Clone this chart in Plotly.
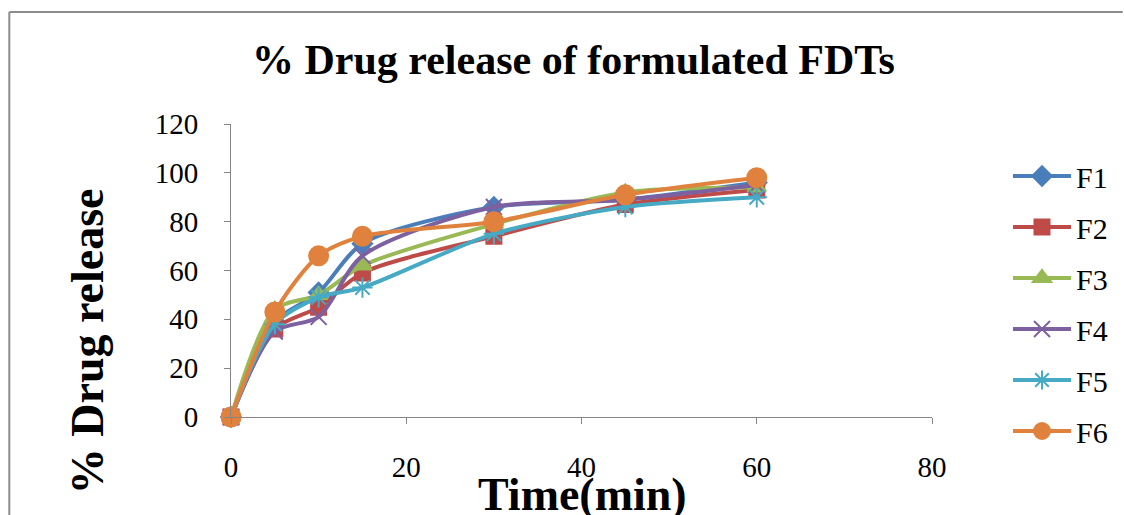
import plotly.graph_objects as go

time_min = [0, 5, 10, 15, 30, 45, 60]
F1 = [0, 39, 51, 71, 86, 89, 96]
F2 = [0, 36, 45, 59, 74, 87, 93]
F3 = [0, 44, 50, 62, 79, 92, 94]
F4 = [0, 35, 41, 66, 86, 89, 95]
F5 = [0, 38, 49, 53, 75, 86, 90]
F6 = [0, 43, 66, 74, 80, 91, 98]

series_names = ["F1", "F2", "F3", "F4", "F5", "F6"]
series_values = [F1, F2, F3, F4, F5, F6]
colors = ["#4A7EBB", "#BE4B48", "#98B954", "#7D60A0", "#46AAC5", "#E0823D"]
symbols = ["diamond", "square", "triangle-up", "x-thin-open", "asterisk-open", "circle"]
sizes = [15, 15, 16, 16, 17, 19]

FONT = "Liberation Serif, Times New Roman, serif"

fig = go.Figure()
for i, (name, vals) in enumerate(zip(series_names, series_values)):
    fig.add_trace(go.Scatter(
        x=time_min, y=vals, name=name, mode="lines+markers",
        legendgroup=name, cliponaxis=False,
        line=dict(color=colors[i], width=4, shape="spline", smoothing=0.8),
        marker=dict(symbol=symbols[i], size=sizes[i], color=colors[i],
                    line=dict(color=colors[i], width=2)),
    ))

L, R, T, B = 231, 191, 124, 98
W, H = 1124, 515
pw, ph = W - L - R, H - T - B

def px_x(p):
    return (p - L) / pw

def px_y(p):
    return (H - B - p) / ph

fig.update_layout(
    width=W, height=H,
    margin=dict(l=L, r=R, t=T, b=B, pad=0),
    paper_bgcolor="white", plot_bgcolor="white",
    font=dict(family=FONT, color="black", size=29),
    showlegend=True,
    legend=dict(x=px_x(1008), y=px_y(150), xanchor="left", yanchor="top",
                font=dict(family=FONT, size=30, color="black"),
                tracegroupgap=9, itemwidth=58, bgcolor="rgba(0,0,0,0)",
                maxheight=480),
    xaxis=dict(range=[0, 80], tickvals=[0, 20, 40, 60, 80], showgrid=False,
               zeroline=False, showline=True, linecolor="#868686", linewidth=1,
               ticks="outside", ticklen=6, tickcolor="#868686",
               ticklabelstandoff=18,
               tickfont=dict(family=FONT, size=29, color="black")),
    yaxis=dict(range=[0, 120], tickvals=[0, 20, 40, 60, 80, 100, 120], showgrid=False,
               zeroline=False, showline=True, linecolor="#868686", linewidth=1,
               ticks="outside", ticklen=6, tickcolor="#868686",
               ticklabelstandoff=20,
               tickfont=dict(family=FONT, size=29, color="black")),
    annotations=[
        dict(text="<b>% Drug release of formulated FDTs</b>", xref="paper", yref="paper",
             x=px_x(574), y=px_y(60), xanchor="center", yanchor="middle", showarrow=False,
             font=dict(family=FONT, size=42, color="black")),
        dict(text="<b>% Drug release</b>", xref="paper", yref="paper",
             x=px_x(87), y=px_y(341), xanchor="center", yanchor="middle", showarrow=False,
             textangle=-90, font=dict(family=FONT, size=46, color="black")),
        dict(text="<b>Time(min)</b>", xref="paper", yref="paper",
             x=px_x(583), y=px_y(494), xanchor="center", yanchor="middle", showarrow=False,
             font=dict(family=FONT, size=46, color="black")),
    ],
    shapes=[
        dict(type="line", xref="paper", yref="paper", x0=px_x(9), x1=px_x(1124),
             y0=px_y(12), y1=px_y(12), line=dict(color="#8C8C8C", width=2)),
        dict(type="line", xref="paper", yref="paper", x0=px_x(9), x1=px_x(9),
             y0=px_y(12), y1=px_y(516), line=dict(color="#8C8C8C", width=2)),
    ],
)

fig.write_html("out.html")
